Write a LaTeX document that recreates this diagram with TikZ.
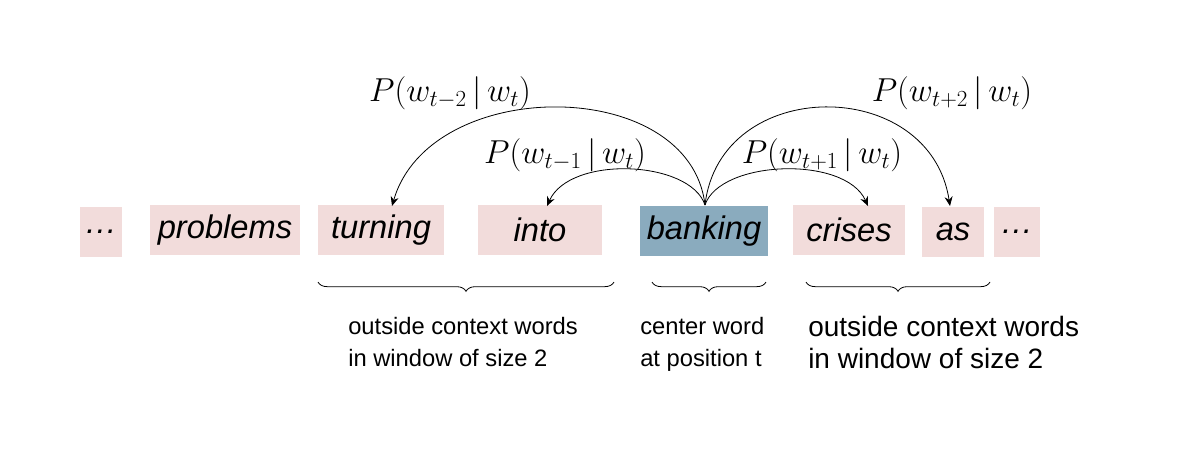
\documentclass[tikz,border=0pt]{standalone}
\usepackage{fontspec}
\setmainfont{Liberation Sans}
\usetikzlibrary{decorations.pathreplacing,arrows.meta}
\definecolor{pinkbox}{HTML}{F2DCDB}
\definecolor{bluebox}{HTML}{8AABBE}
\begin{document}
\begin{tikzpicture}[x=0.75pt,y=-0.75pt,
  word/.style={fill=pinkbox,minimum height=37.5pt,inner sep=0pt,font=\fontsize{24.5}{28}\selectfont\itshape},
  arr/.style={-{Stealth[length=7pt,width=6pt]},line width=0.6pt},
  lab/.style={font=\fontsize{24}{28}\selectfont},
  brace/.style={decorate,decoration={brace,mirror,amplitude=7pt},line width=0.6pt},
  txt/.style={align=left,anchor=north west,font=\fontsize{17.8}{24}\selectfont,inner sep=0pt}]
\useasboundingbox (0,0) rectangle (1200,472);
\node[word,minimum width=31.5pt] (d1) at (101,232) {\ldots};
\node[word,minimum width=112pt] (w1) at (225,230) {problems};
\node[word,minimum width=94.5pt] (w2) at (381,230) {turning};
\node[word,minimum width=93pt] (w3) at (540,230) {into};
\node[word,fill=bluebox,minimum width=96pt] (w4) at (704,231) {banking};
\node[word,minimum width=84pt] (w5) at (849,230) {crises};
\node[word,minimum width=47pt] (w6) at (953,232) {as};
\node[word,minimum width=34pt] (d2) at (1017,232) {\ldots};
\coordinate (s) at (705,205);
\coordinate (t2) at (392,206);
\coordinate (t1) at (547,206);
\coordinate (t3) at (868,206);
\coordinate (t4) at (950,206);
\draw[arr] (s) .. controls (690,75) and (430,75) .. (t2);
\draw[arr] (s) .. controls (690,160) and (570,155) .. (t1);
\draw[arr] (s) .. controls (720,160) and (845,155) .. (t3);
\draw[arr] (s) .. controls (720,75) and (930,75) .. (t4);
\node[lab] (l2) at (450,93) {$P(w_{t-2}\,|\,w_t)$};
\node[lab] (l1) at (565,155) {$P(w_{t-1}\,|\,w_t)$};
\node[lab] (l3) at (822,155) {$P(w_{t+1}\,|\,w_t)$};
\node[lab] (l4) at (952,93) {$P(w_{t+2}\,|\,w_t)$};
\coordinate (b1a) at (318,282); \coordinate (b1b) at (614,282);
\coordinate (b2a) at (652,282); \coordinate (b2b) at (766,282);
\coordinate (b3a) at (806,282); \coordinate (b3b) at (990,282);
\draw[brace] (b1a) -- (b1b);
\draw[brace] (b2a) -- (b2b);
\draw[brace] (b3a) -- (b3b);
\node[txt] (x1) at (348,317) {outside context words\\in window of size 2};
\node[txt] (x2) at (640,317) {center word\\at position t};
\node[txt,font=\fontsize{21}{24}\selectfont] (x3) at (808,316) {outside context words\\in window of size 2};
\end{tikzpicture}
\end{document}
